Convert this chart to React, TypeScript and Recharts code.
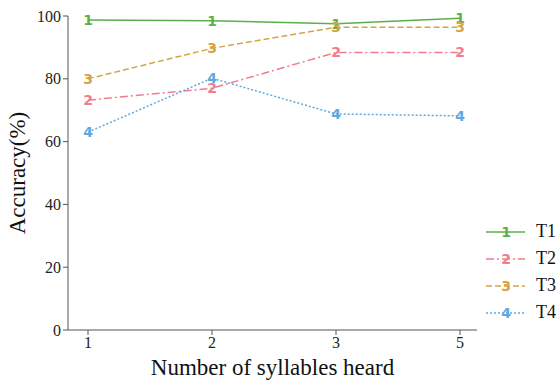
import React from 'react';
import { LineChart, Line, XAxis, YAxis, Legend, Label } from 'recharts';

const syllables = ['1', '2', '3', '5'];
const t1 = [98.7, 98.5, 97.5, 99.3];
const t2 = [73.2, 77.0, 88.4, 88.4];
const t3 = [80.0, 89.7, 96.4, 96.4];
const t4 = [63.0, 80.2, 68.8, 68.2];
const yTicks = [0, 20, 40, 60, 80, 100];

const data = syllables.map((s, i) => ({ n: s, T1: t1[i], T2: t2[i], T3: t3[i], T4: t4[i] }));

const seriesDefs = [
  { key: 'T1', mark: '1', color: '#5DAE4E', dash: undefined as string | undefined },
  { key: 'T2', mark: '2', color: '#F27C8B', dash: '8 3 2 3' },
  { key: 'T3', mark: '3', color: '#D3A547', dash: '6 3' },
  { key: 'T4', mark: '4', color: '#5FA9E0', dash: '2 2' },
];

const serif = '"Liberation Serif", "Times New Roman", serif';

const makeDot = (mark: string, color: string) => (props: any) => {
  const { cx, cy, index } = props;
  if (cx == null || cy == null) return <g key={index} />;
  return (
    <text
      key={index}
      x={cx}
      y={cy}
      textAnchor="middle"
      dominantBaseline="central"
      fill={color}
      fontSize={14}
      fontWeight="bold"
      fontFamily='"DejaVu Sans", sans-serif'
    >
      {mark}
    </text>
  );
};

const LegendBox = () => (
  <div style={{ width: 81 }}>
    {seriesDefs.map((s) => (
      <div key={s.key} style={{ display: 'flex', alignItems: 'center', height: 27 }}>
        <svg width={50} height={20}>
          <line x1={9} x2={48} y1={10} y2={10} stroke={s.color} strokeWidth={1.5} strokeDasharray={s.dash} />
          <text x={29} y={10} textAnchor="middle" dominantBaseline="central" fill={s.color} fontSize={14} fontWeight="bold" fontFamily='"DejaVu Sans", sans-serif'>
            {s.mark}
          </text>
        </svg>
        <span style={{ fontFamily: serif, fontSize: 18, color: '#111', marginLeft: 9 }}>{s.key}</span>
      </div>
    ))}
  </div>
);

export default function App() {
  return (
    <div style={{ position: 'absolute', left: 0, top: 0, background: '#fff' }}>
      <LineChart width={558} height={384} data={data} margin={{ top: 16, right: 0, bottom: 0, left: 0 }}>
        <XAxis
          dataKey="n"
          height={54}
          padding={{ left: 20, right: 17 }}
          stroke="#555"
          tickLine={{ stroke: '#555' }}
          tickSize={5}
          tick={{ fill: '#222', fontSize: 16, fontFamily: serif }}
        >
          <Label value="Number of syllables heard" position="insideBottom" offset={9} style={{ fill: '#111', fontSize: 23, fontFamily: serif }} />
        </XAxis>
        <YAxis
          domain={[0, 100]}
          ticks={yTicks}
          width={68}
          stroke="#555"
          tickSize={5}
          tick={{ fill: '#222', fontSize: 16, fontFamily: serif }}
        >
          <Label value="Accuracy(%)" angle={-90} position="insideLeft" offset={17} style={{ textAnchor: 'middle', fill: '#111', fontSize: 23, fontFamily: serif }} />
        </YAxis>
        <Legend
          layout="vertical"
          align="right"
          verticalAlign="top"
          content={<LegendBox />}
          wrapperStyle={{ top: 218, right: 0 }}
        />
        {seriesDefs.map((s) => (
          <Line
            key={s.key}
            dataKey={s.key}
            stroke={s.color}
            strokeWidth={1.5}
            strokeDasharray={s.dash}
            dot={makeDot(s.mark, s.color)}
            activeDot={false}
            isAnimationActive={false}
            legendType="none"
          />
        ))}
      </LineChart>
    </div>
  );
}
